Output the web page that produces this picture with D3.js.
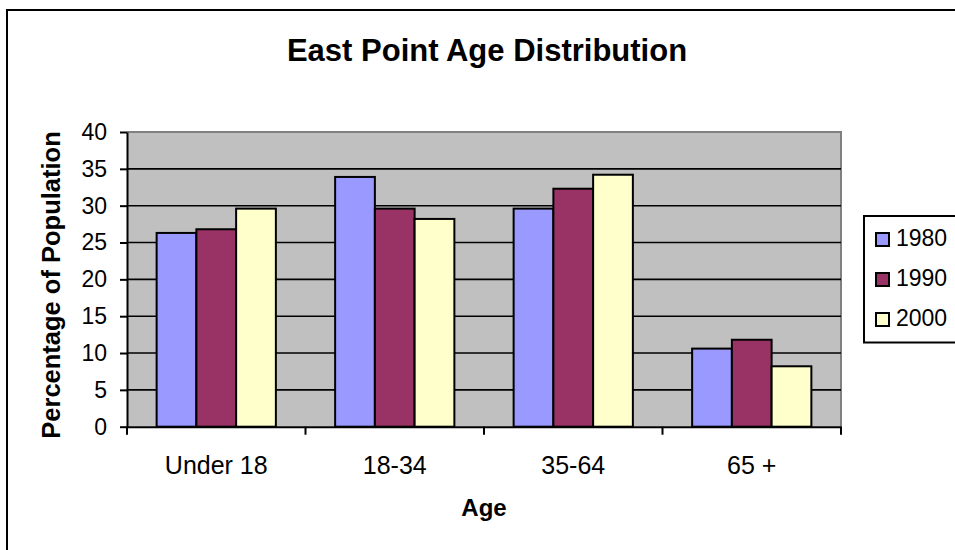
<!DOCTYPE html>
<html>
<head>
<meta charset="utf-8">
<script src="https://cdn.jsdelivr.net/npm/d3@7"></script>
<style>
  html, body { margin: 0; padding: 0; background: #fff; }
  svg { display: block; font-family: "Liberation Sans", Arial, sans-serif; }
</style>
</head>
<body>
<svg id="chart" width="955" height="550"></svg>
<script>
// Age groups and census years
const categories = ["Under 18", "18-34", "35-64", "65 +"];
const seriesNames = ["1980", "1990", "2000"];
const values1980 = [26.3, 33.9, 29.6, 10.6];
const values1990 = [26.8, 29.6, 32.3, 11.8];
const values2000 = [29.6, 28.2, 34.2, 8.2];
const yTicks = [0, 5, 10, 15, 20, 25, 30, 35, 40];
const seriesColors = ["#9999FF", "#993366", "#FFFFCC"];

const seriesValues = [values1980, values1990, values2000];
const rows = categories.map((c, i) => ({
  category: c,
  bars: seriesNames.map((s, j) => ({ series: s, value: seriesValues[j][i] }))
}));

const svg = d3.select("#chart");

// Outer chart frame (runs off the right and bottom edges)
svg.append("rect")
  .attr("x", 7).attr("y", 10)
  .attr("width", 1000).attr("height", 600)
  .attr("fill", "#fff").attr("stroke", "#000").attr("stroke-width", 2);

const plot = { left: 127, right: 841, top: 132, bottom: 426.7 };

const x0 = d3.scaleBand()
  .domain(categories)
  .range([plot.left, plot.right])
  .padding(0);

const bw = x0.bandwidth();
const inset = bw * 0.166;
const x1 = d3.scaleBand()
  .domain(seriesNames)
  .range([inset, bw - inset])
  .padding(0);

const y = d3.scaleLinear()
  .domain([0, 40])
  .range([plot.bottom, plot.top]);

const color = d3.scaleOrdinal().domain(seriesNames).range(seriesColors);

// Plot area background
svg.append("rect")
  .attr("x", plot.left).attr("y", plot.top)
  .attr("width", plot.right - plot.left)
  .attr("height", plot.bottom - plot.top)
  .attr("fill", "#C0C0C0");

// Gray border on the top and right of the plot area
svg.append("path")
  .attr("d", `M${plot.left},${plot.top}H${plot.right}V${plot.bottom}`)
  .attr("fill", "none").attr("stroke", "#808080").attr("stroke-width", 2);

// Horizontal gridlines
svg.append("g")
  .selectAll("line")
  .data(yTicks.filter(t => t > 0 && t < 40))
  .join("line")
  .attr("x1", plot.left).attr("x2", plot.right)
  .attr("y1", d => y(d)).attr("y2", d => y(d))
  .attr("stroke", "#000").attr("stroke-width", 1.6);

// Bars
const groups = svg.append("g")
  .selectAll("g")
  .data(rows)
  .join("g")
  .attr("transform", d => `translate(${x0(d.category)},0)`);

groups.selectAll("rect")
  .data(d => d.bars)
  .join("rect")
  .attr("x", d => x1(d.series))
  .attr("y", d => y(d.value))
  .attr("width", x1.bandwidth())
  .attr("height", d => y(0) - y(d.value))
  .attr("fill", d => color(d.series))
  .attr("stroke", "#000")
  .attr("stroke-width", 2);

// Y axis
const yAxis = svg.append("g")
  .attr("transform", `translate(${plot.left},0)`)
  .call(d3.axisLeft(y).tickValues(yTicks).tickSize(7).tickSizeOuter(0).tickPadding(13));
yAxis.select(".domain").attr("stroke", "#000").attr("stroke-width", 2);
yAxis.selectAll(".tick line").attr("stroke", "#000").attr("stroke-width", 2);
yAxis.selectAll(".tick text")
  .attr("font-family", "Liberation Sans, Arial, sans-serif")
  .attr("font-size", 23).attr("fill", "#000");

// X axis with ticks at category boundaries
const xAxis = svg.append("g")
  .attr("transform", `translate(0,${plot.bottom})`)
  .call(d3.axisBottom(x0).tickSize(0).tickSizeOuter(0).tickPadding(30));
xAxis.select(".domain").attr("stroke", "#000").attr("stroke-width", 2);
xAxis.selectAll(".tick text")
  .attr("font-family", "Liberation Sans, Arial, sans-serif")
  .attr("font-size", 25).attr("fill", "#000");

const boundaries = categories.map(c => x0(c)).concat([plot.right]);
svg.append("g")
  .selectAll("line")
  .data(boundaries)
  .join("line")
  .attr("x1", d => d).attr("x2", d => d)
  .attr("y1", plot.bottom).attr("y2", plot.bottom + 8)
  .attr("stroke", "#000").attr("stroke-width", 2);

// Titles
svg.append("text")
  .attr("x", 487).attr("y", 61)
  .attr("text-anchor", "middle")
  .attr("font-size", 31).attr("font-weight", "bold")
  .text("East Point Age Distribution");

svg.append("text")
  .attr("x", (plot.left + plot.right) / 2).attr("y", 516)
  .attr("text-anchor", "middle")
  .attr("font-size", 24).attr("font-weight", "bold")
  .text("Age");

svg.append("text")
  .attr("transform", `translate(59.5,285) rotate(-90)`)
  .attr("text-anchor", "middle")
  .attr("font-size", 25.5).attr("font-weight", "bold")
  .text("Percentage of Population");

// Legend
const legend = svg.append("g");
legend.append("rect")
  .attr("x", 864).attr("y", 216)
  .attr("width", 200).attr("height", 126.5)
  .attr("fill", "#fff").attr("stroke", "#000").attr("stroke-width", 2);

const items = legend.selectAll("g.item")
  .data(seriesNames)
  .join("g")
  .attr("class", "item")
  .attr("transform", (d, i) => `translate(0,${246 + i * 40})`);

items.append("rect")
  .attr("x", 876).attr("y", -13)
  .attr("width", 13).attr("height", 13)
  .attr("fill", d => color(d))
  .attr("stroke", "#000").attr("stroke-width", 2);

items.append("text")
  .attr("x", 896).attr("y", 0)
  .attr("font-size", 23)
  .text(d => d);
</script>
</body>
</html>
